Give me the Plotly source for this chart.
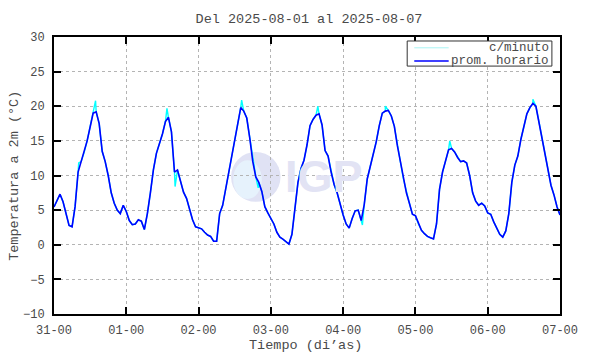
import plotly.graph_objects as go

# ---- data ----
day_labels = ["31-00", "01-00", "02-00", "03-00", "04-00", "05-00", "06-00", "07-00"]
day_hours = [0, 24, 48, 72, 96, 120, 144, 168]

temp_d31 = [5.45, 6.5, 7.3, 6.2, 4.5, 2.8, 2.6, 5.5, 10.5, 12.0, 13.3, 15.0,
            17.0, 19.0, 19.2, 17.5, 13.5, 12.0, 10.0, 7.5, 6.0, 5.0, 4.5, 5.7]
temp_d01 = [4.8, 3.5, 2.9, 3.0, 3.6, 3.4, 2.2, 4.5, 7.5, 10.8, 13.2, 14.5,
            16.0, 17.8, 18.4, 16.3, 10.5, 10.8, 9.0, 7.6, 6.7, 5.0, 3.6, 2.6]
temp_d02 = [2.5, 2.3, 1.8, 1.4, 1.2, 0.5, 0.5, 4.5, 5.7, 8.0, 10.5, 12.7,
            14.8, 17.0, 19.8, 19.3, 18.3, 15.4, 12.0, 9.8, 9.0, 7.7, 5.5, 4.6]
temp_d03 = [3.8, 3.0, 1.8, 1.1, 0.8, 0.5, 0.1, 1.5, 5.5, 9.0, 11.0, 12.2,
            14.4, 17.2, 18.1, 18.7, 18.9, 17.3, 13.6, 12.8, 10.5, 8.7, 7.5, 5.7]
temp_d04 = [4.3, 3.0, 2.4, 3.8, 4.9, 5.0, 3.5, 5.8, 9.5, 11.3, 13.0, 14.9,
            17.2, 19.0, 19.3, 19.4, 18.6, 17.1, 14.3, 12.0, 9.5, 7.5, 6.0, 4.4]
temp_d05 = [4.2, 3.0, 2.1, 1.6, 1.2, 1.0, 0.85, 3.0, 8.0, 10.5, 12.3, 13.7,
            13.9, 13.4, 12.6, 12.0, 12.1, 11.8, 10.0, 7.5, 6.3, 5.7, 6.0, 5.6]
temp_d06 = [4.6, 4.4, 3.3, 2.3, 1.5, 1.1, 2.0, 4.5, 9.0, 11.5, 12.8, 15.2,
            17.3, 18.9, 19.8, 20.4, 20.0, 17.8, 15.5, 13.0, 10.8, 8.6, 7.2, 5.5]
temp_end = [4.3]

# per-minute excursions visible above/below the hourly line
spike_hours = [8.2, 13.8, 37.5, 40.2, 62.3, 67.8, 87.6, 102.4, 110.0, 131.4, 159.0]
spike_vals = [11.8, 20.8, 19.7, 8.4, 20.9, 8.2, 20.0, 2.85, 20.0, 15.0, 21.0]

hourly = temp_d31 + temp_d01 + temp_d02 + temp_d03 + temp_d04 + temp_d05 + temp_d06 + temp_end
hours = list(range(len(hourly)))

minute_pts = sorted(zip(hours + spike_hours, hourly + spike_vals))
minute_x = [p[0] for p in minute_pts]
minute_y = [p[1] for p in minute_pts]

FONT = "Liberation Mono, DejaVu Sans Mono, monospace"
TXT = "#4a4a4a"

fig = go.Figure()
fig.add_trace(go.Scatter(x=minute_x, y=minute_y, mode="lines",
                         line=dict(color="#00ffff", width=1.4), name="c/minuto",
                         showlegend=False, hoverinfo="skip"))
fig.add_trace(go.Scatter(x=hours, y=hourly, mode="lines",
                         line=dict(color="#0000ff", width=1.6), name="prom. horario",
                         showlegend=False))

# watermark (IGP logo)
fig.add_shape(type="circle", xref="x", yref="y", x0=58.8, x1=75.2, y0=6.2, y1=13.4,
              fillcolor="#e0e2f4", line=dict(width=0), layer="below")
fig.add_shape(type="circle", xref="x", yref="y", x0=59.5, x1=69.0, y0=6.6, y1=12.2,
              fillcolor="#e6f2fc", line=dict(width=0), layer="below")
fig.add_annotation(x=89.5, y=9.9, xref="x", yref="y", text="<b>IGP</b>", showarrow=False,
                   font=dict(family="Arial, Liberation Sans", size=45, color="#e2e3f4"))

# custom legend
fig.add_shape(type="rect", xref="paper", yref="paper", x0=0.698, x1=0.984, y0=0.895, y1=0.9856,
              line=dict(color="#333333", width=1), fillcolor="white")
fig.add_shape(type="line", xref="paper", yref="paper", x0=0.712, x1=0.780, y0=0.961, y1=0.961,
              line=dict(color="#a8f4f4", width=1))
fig.add_shape(type="line", xref="paper", yref="paper", x0=0.712, x1=0.780, y0=0.913, y1=0.913,
              line=dict(color="#0000ff", width=1.5))
fig.add_annotation(x=0.982, y=0.961, xref="paper", yref="paper", text="c/minuto",
                   xanchor="right", yanchor="middle", showarrow=False,
                   font=dict(family=FONT, size=12.5, color=TXT))
fig.add_annotation(x=0.982, y=0.913, xref="paper", yref="paper", text="prom. horario",
                   xanchor="right", yanchor="middle", showarrow=False,
                   font=dict(family=FONT, size=12.5, color=TXT))

# axis titles
fig.add_annotation(x=-0.0784, y=0.5, xref="paper", yref="paper", text="Temperatura a 2m (°C)",
                   textangle=-90, showarrow=False, xanchor="center", yanchor="middle",
                   font=dict(family=FONT, size=13.5, color=TXT))
fig.add_annotation(x=0.498, y=-0.1155, xref="paper", yref="paper", text="Tiempo (di’as)",
                   showarrow=False, xanchor="center", yanchor="middle",
                   font=dict(family=FONT, size=13.5, color=TXT))

fig.update_layout(
    width=590, height=354,
    margin=dict(l=54, r=26, t=37, b=40),
    paper_bgcolor="white", plot_bgcolor="white",
    title=dict(text="Del 2025-08-01 al 2025-08-07", x=309 / 590, xanchor="center",
               y=1 - 18.5 / 354, yanchor="middle",
               font=dict(family=FONT, size=13.5, color=TXT)),
    showlegend=False,
    xaxis=dict(range=[0, 168], tickvals=day_hours, ticktext=day_labels,
               showgrid=True, gridcolor="#b4b4b4", griddash="dot", gridwidth=1,
               showline=True, linecolor="black", linewidth=2, mirror="ticks",
               ticks="inside", ticklen=7, tickwidth=2, tickcolor="black",
               zeroline=False, tickfont=dict(family=FONT, size=12, color=TXT),
               ticklabelstandoff=4),
    yaxis=dict(range=[-10, 30], dtick=5, tick0=0,
               showgrid=True, gridcolor="#b4b4b4", griddash="dot", gridwidth=1,
               showline=True, linecolor="black", linewidth=2, mirror="ticks",
               ticks="inside", ticklen=7, tickwidth=2, tickcolor="black",
               zeroline=False, tickfont=dict(family=FONT, size=12, color=TXT),
               ticklabelstandoff=5),
)

fig.write_html("out.html", config={"displayModeBar": False},
               post_script="document.body.style.margin='0';document.body.style.padding='0';"
                           "document.body.style.overflow='hidden';")
